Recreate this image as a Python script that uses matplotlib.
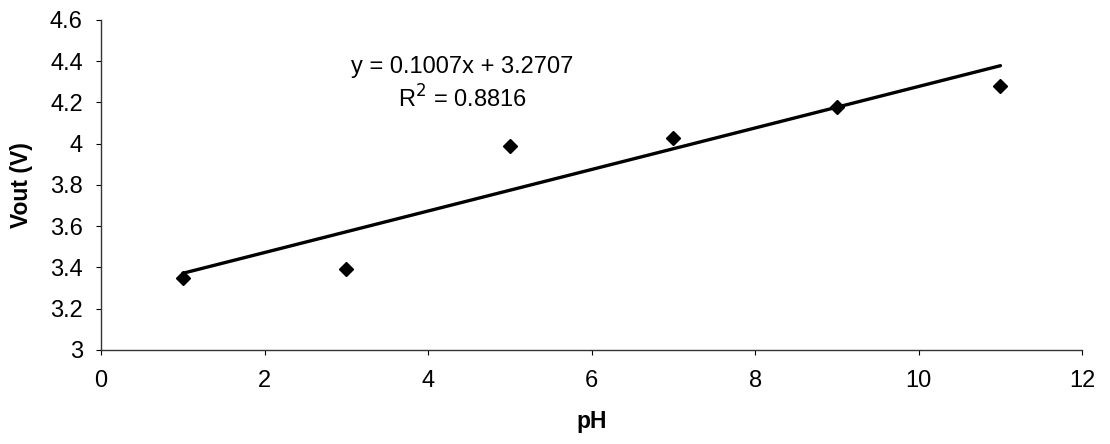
import numpy as np
import matplotlib
matplotlib.use('Agg')
import matplotlib.pyplot as plt

# Measured data
ph = [1, 3, 5, 7, 9, 11]
vout = [3.35, 3.39, 3.99, 4.03, 4.18, 4.28]

# Trendline coefficients as shown on the chart
slope = 0.1007
intercept = 3.2707
r_squared = 0.8816

plt.rcParams['font.family'] = ['Liberation Sans', 'DejaVu Sans']

fig = plt.figure(figsize=(11.1, 4.44), dpi=100)
ax = fig.add_axes([0.091, 0.212, 0.884, 0.743])

# Linear trendline across the data range
x_fit = np.array([min(ph), max(ph)])
ax.plot(x_fit, slope * x_fit + intercept, color='black', linewidth=2.4,
        solid_capstyle='round', zorder=2)

# Data points
ax.plot(ph, vout, linestyle='none', marker='D', markersize=7,
        color='black', zorder=3)

ax.text(4.42, 4.343, f'y = {slope}x + {intercept}', ha='center', va='baseline', fontsize=17)
ax.text(4.42, 4.173, f'R$^2$ = {r_squared}', ha='center', va='baseline', fontsize=17)

ax.set_xlim(0, 12)
ax.set_ylim(3, 4.6)
ax.set_xticks(range(0, 13, 2))
ax.set_yticks(np.arange(3, 4.61, 0.2))
ax.set_yticklabels(['3', '3.2', '3.4', '3.6', '3.8', '4', '4.2', '4.4', '4.6'])

ax.spines['top'].set_visible(False)
ax.spines['right'].set_visible(False)
for side in ['left', 'bottom']:
    ax.spines[side].set_linewidth(1.0)
    ax.spines[side].set_color('#333333')

ax.tick_params(axis='both', labelsize=17, length=3.6, width=0.8, direction='out',
               colors='black')
ax.tick_params(axis='x', pad=11)
ax.tick_params(axis='y', pad=9.5)

ax.set_xlabel('pH', fontsize=16.5, fontweight='bold', labelpad=13)
ax.set_ylabel('Vout (V)', fontsize=16.5, fontweight='bold', labelpad=12)

fig.savefig('out.png', dpi=100)
